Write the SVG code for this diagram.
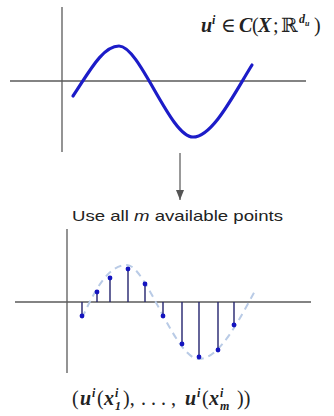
<svg xmlns="http://www.w3.org/2000/svg" width="334" height="416" viewBox="0 0 334 416">
<style>
.axis{stroke:#5a5a5a;stroke-width:1.3;fill:none}
.curve{stroke:#1c1cc8;stroke-width:3.2;fill:none;stroke-linecap:round}
.dash{stroke:#b9cbe6;stroke-width:2;fill:none;stroke-dasharray:7 5}
.stem{stroke:#23236e;stroke-width:1.4}
.dot{fill:#1414c0}
.m{font-family:"Liberation Serif","DejaVu Serif",serif;font-size:20px;fill:#222;font-style:italic;font-weight:bold}
.r{font-family:"Liberation Serif","DejaVu Serif",serif;font-size:20px;fill:#222}
.s{font-family:"Liberation Serif","DejaVu Serif",serif;font-size:12px;fill:#222;font-style:italic;font-weight:bold}
.lbl{font-family:"Liberation Sans",Arial,sans-serif;font-size:15px;fill:#222}
</style>
<defs>
<marker id="ah" viewBox="0 0 10 8" refX="10" refY="4" markerWidth="10" markerHeight="8" markerUnits="userSpaceOnUse" orient="auto">
<path d="M0,0 L10,4 L0,8 Z" fill="#555"/>
</marker>
</defs>
<g id="continuous-plot">
<line class="axis" x1="62" y1="7" x2="62" y2="152"/>
<line class="axis" x1="10" y1="81" x2="306" y2="81"/>
<path class="curve" d="M73,96 C88,74 102,46 119,46 C140,46 170,137 193,137 C213,137 235,92 252,65"/>
</g>
<g id="function-label">
<text class="m" x="201" y="32">u</text>
<text class="s" x="212" y="24">i</text>
<text class="r" x="221" y="32">∈</text>
<text class="m" x="239" y="32">C</text>
<text class="r" x="252" y="32">(</text>
<text class="m" x="258" y="32">X</text>
<text class="r" x="273" y="32">;</text>
<text class="r" x="281" y="32">ℝ</text>
<text class="s" x="299" y="23">d<tspan dy="3" font-size="8">u</tspan></text>
<text class="r" x="314" y="32">)</text>
</g>
<g id="connectors">
<line x1="180" y1="153" x2="180" y2="200" stroke="#555" stroke-width="1.2" marker-end="url(#ah)"/>
</g>
<g id="step-label">
<text class="lbl" x="72" y="221" textLength="211" lengthAdjust="spacingAndGlyphs">Use all <tspan font-style="italic">m</tspan> available points</text>
</g>
<g id="sampled-plot">
<line class="axis" x1="67" y1="229" x2="67" y2="373"/>
<line class="axis" x1="15" y1="302" x2="311" y2="302"/>
<path class="dash" d="M82,318 C95,290 108,265 127,265 C146,265 175,359 199,359 C220,359 240,318 256,289"/>
<g>
<line class="stem" x1="82" y1="302" x2="82" y2="316"/><circle class="dot" cx="82" cy="316" r="2.4"/>
<line class="stem" x1="97" y1="302" x2="97" y2="292"/><circle class="dot" cx="97" cy="292" r="2.4"/>
<line class="stem" x1="110" y1="302" x2="110" y2="278"/><circle class="dot" cx="110" cy="278" r="2.4"/>
<line class="stem" x1="128" y1="302" x2="128" y2="269"/><circle class="dot" cx="128" cy="269" r="2.4"/>
<line class="stem" x1="145" y1="302" x2="145" y2="284"/><circle class="dot" cx="145" cy="284" r="2.4"/>
<line class="stem" x1="163" y1="302" x2="163" y2="316"/><circle class="dot" cx="163" cy="316" r="2.4"/>
<line class="stem" x1="182" y1="302" x2="182" y2="344"/><circle class="dot" cx="182" cy="344" r="2.4"/>
<line class="stem" x1="199" y1="302" x2="199" y2="357"/><circle class="dot" cx="199" cy="357" r="2.4"/>
<line class="stem" x1="218" y1="302" x2="218" y2="350"/><circle class="dot" cx="218" cy="350" r="2.4"/>
<line class="stem" x1="234" y1="302" x2="234" y2="325"/><circle class="dot" cx="234" cy="325" r="2.4"/>
</g>
</g>
<g id="samples-label">
<text class="r" x="72" y="405">(</text>
<text class="m" x="80" y="405">u</text>
<text class="s" x="92" y="397">i</text>
<text class="r" x="97" y="405">(</text>
<text class="m" x="104" y="405">x</text>
<text class="s" x="115" y="397">i</text>
<text class="s" x="115" y="410" font-style="normal">1</text>
<text class="r" x="123" y="405">),</text>
<text class="r" x="141" y="405">. . . ,</text>
<text class="m" x="185" y="405">u</text>
<text class="s" x="197" y="397">i</text>
<text class="r" x="202" y="405">(</text>
<text class="m" x="209" y="405">x</text>
<text class="s" x="220" y="397">i</text>
<text class="s" x="220" y="410">m</text>
<text class="r" x="237" y="405">))</text>
</g>
</svg>
